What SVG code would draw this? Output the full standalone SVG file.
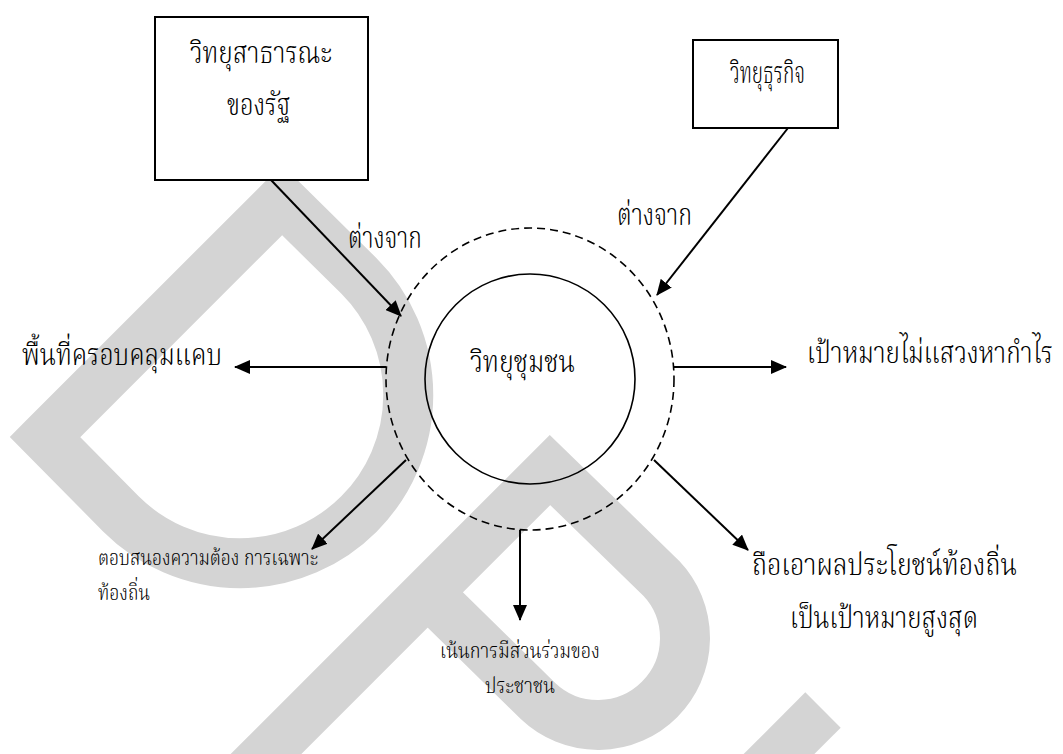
<svg xmlns="http://www.w3.org/2000/svg" width="1063" height="754" viewBox="0 0 1063 754">
<style>
.wm{fill:none;stroke:#d4d4d4;stroke-width:50;stroke-linejoin:miter;stroke-miterlimit:10}
.box{fill:#fff;stroke:#000;stroke-width:2}
.t{font-family:"Laksaman","Norasi","TH Sarabun New","Noto Serif Thai","Noto Sans Thai","Garuda","Loma",serif;fill:#000;font-weight:300}
.big{font-size:30px}
.sm{font-size:22px}
.con{stroke:#000;stroke-width:2;fill:none}
</style>
<defs>
<marker id="ah" markerWidth="8" markerHeight="7" refX="7.5" refY="3.5" orient="auto" markerUnits="strokeWidth">
<path d="M0,0 L8,3.5 L0,7 Z" fill="#000"/>
</marker>
</defs>
<rect width="1063" height="754" fill="#fff"/>
<g id="watermark">
<path class="wm" d="M45,437 L282,200 L359,276 A168 168 0 0 1 121,514 Z"/>
<path class="wm" d="M230,790 L550,470 L661,578 A87 87 0 0 1 538,701 L427,592"/>
<path class="wm" style="stroke-linecap:butt" d="M823,710 L760,773"/>
</g>
<g id="connectors">
<line class="con" x1="271" y1="180" x2="401" y2="316" marker-end="url(#ah)"/>
<line class="con" x1="788" y1="128" x2="657" y2="295" marker-end="url(#ah)"/>
<line class="con" x1="386" y1="367" x2="235" y2="367" marker-end="url(#ah)"/>
<line class="con" x1="674" y1="367" x2="786" y2="367" marker-end="url(#ah)"/>
<line class="con" x1="406" y1="460" x2="312" y2="549" marker-end="url(#ah)"/>
<line class="con" x1="520" y1="530" x2="520" y2="620" marker-end="url(#ah)"/>
<line class="con" x1="654" y1="460" x2="748" y2="550" marker-end="url(#ah)"/>
<text class="t big" x="348" y="248" textLength="74" lengthAdjust="spacingAndGlyphs">ต่างจาก</text>
<text class="t big" x="617" y="225" textLength="75" lengthAdjust="spacingAndGlyphs">ต่างจาก</text>
</g>
<g id="node-public">
<rect class="box" x="155" y="17" width="213" height="163"/>
<text class="t big" x="190" y="63" textLength="142" lengthAdjust="spacingAndGlyphs">วิทยุสาธารณะ</text>
<text class="t big" x="227" y="115" textLength="63" lengthAdjust="spacingAndGlyphs">ของรัฐ</text>
</g>
<g id="node-commercial">
<rect class="box" x="693" y="40" width="145" height="88"/>
<text class="t big" x="730" y="83" textLength="75" lengthAdjust="spacingAndGlyphs">วิทยุธุรกิจ</text>
</g>
<g id="node-community">
<ellipse cx="530" cy="379" rx="144" ry="151" fill="none" stroke="#000" stroke-width="1.6" stroke-dasharray="8 5"/>
<circle cx="530" cy="379" r="105" fill="none" stroke="#000" stroke-width="1.6"/>
<text class="t big" x="470" y="372" textLength="105" lengthAdjust="spacingAndGlyphs">วิทยุชุมชน</text>
</g>
<g id="node-narrow">
<text class="t big" x="22" y="365" textLength="200" lengthAdjust="spacingAndGlyphs">พื้นที่ครอบคลุมแคบ</text>
</g>
<g id="node-nonprofit">
<text class="t big" x="807" y="363" textLength="246" lengthAdjust="spacingAndGlyphs">เป้าหมายไม่แสวงหากำไร</text>
</g>
<g id="node-local-needs">
<text class="t sm" x="98" y="565" textLength="220" lengthAdjust="spacingAndGlyphs">ตอบสนองความต้อง การเฉพาะ</text>
<text class="t sm" x="98" y="600" textLength="52" lengthAdjust="spacingAndGlyphs">ท้องถิ่น</text>
</g>
<g id="node-participation">
<text class="t sm" x="440" y="658" textLength="160" lengthAdjust="spacingAndGlyphs">เน้นการมีส่วนร่วมของ</text>
<text class="t sm" x="485" y="693" textLength="70" lengthAdjust="spacingAndGlyphs">ประชาชน</text>
</g>
<g id="node-local-benefit">
<text class="t big" x="752" y="575" textLength="265" lengthAdjust="spacingAndGlyphs">ถือเอาผลประโยชน์ท้องถิ่น</text>
<text class="t big" x="790" y="628" textLength="188" lengthAdjust="spacingAndGlyphs">เป็นเป้าหมายสูงสุด</text>
</g>
</svg>
